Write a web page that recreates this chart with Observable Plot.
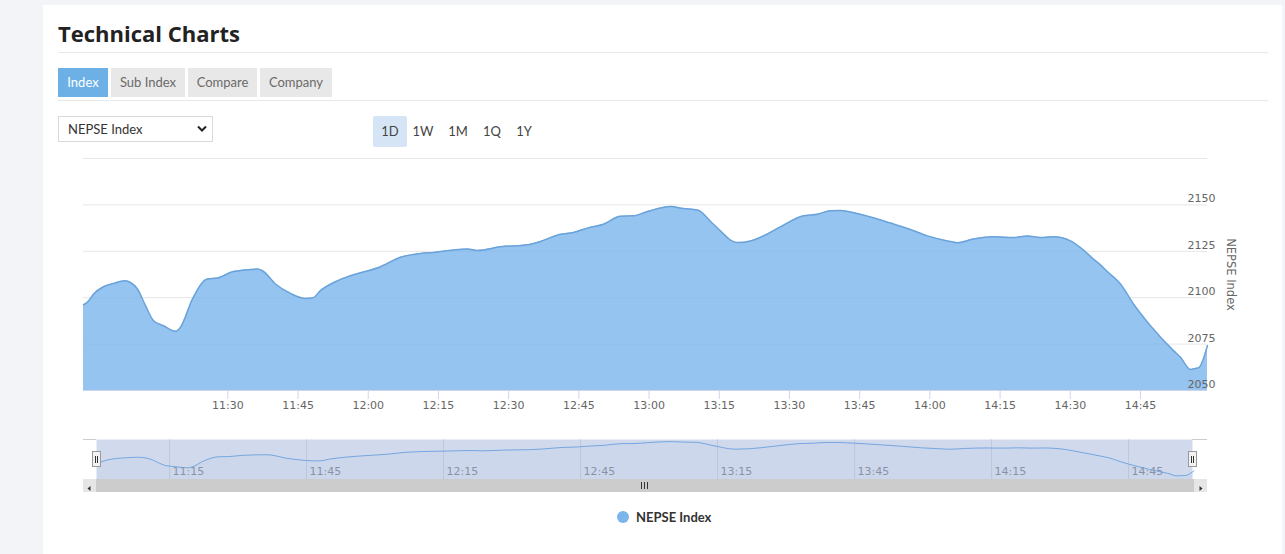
<!DOCTYPE html>
<html>
<head>
<meta charset="utf-8">
<script src="https://cdn.jsdelivr.net/npm/d3@7"></script>
<script src="https://cdn.jsdelivr.net/npm/@observablehq/plot@0.6"></script>
<style>
  html, body { margin: 0; padding: 0; }
  body { width: 1285px; height: 554px; overflow: hidden; background: #f3f4f8; position: relative; font-family: Lato, "Noto Sans", sans-serif; }
  .abs { position: absolute; }
  #card { left: 43px; top: 5px; width: 1239px; height: 560px; background: #fff; }
  #title { left: 58px; top: 18px; font-family: "Open Sans", Lato, sans-serif; font-size: 22px; font-weight: 700; color: #222; line-height: 30px; white-space: nowrap; }
  .hline { height: 1px; background: #e8e8e8; left: 58px; width: 1210px; }
  .tab { top: 68px; height: 29px; line-height: 29px; font-size: 13px; color: #6a6a6a; background: #e8e8e8; text-align: center; }
  .tab.on { background: #6cb0e6; color: #fff; }
  #sel { left: 58px; top: 116px; width: 153px; height: 24px; border: 1px solid #d9d9d9; font-size: 13px; color: #333; line-height: 24px; }
  #sel span { position: absolute; left: 9px; }
  #sel svg { position: absolute; right: 5px; top: 8px; }
  .btn { top: 116px; height: 31px; line-height: 31px; font-size: 13px; color: #444; text-align: center; width: 34px; }
  .btn.on { background: #d6e5f6; border-radius: 2px; }
  #main { left: 43px; top: 150px; }
  #nav { left: 96px; top: 439px; }
  #navTop { left: 83px; top: 439px; width: 1124px; height: 1px; background: #cccccc; }
  #scroll { left: 83px; top: 479px; width: 1124px; height: 13px; background: #cccccc; }
  .sbtn { top: 479px; width: 13px; height: 13px; background: #e6e6e6; border: 0; }
  .handle { top: 451px; width: 7px; height: 14px; background: #f2f2f2; border: 1px solid #999; }
  .handle i { position: absolute; top: 4px; width: 1px; height: 7px; background: #333; }
  #legend { left: 617px; top: 508px; height: 18px; font-size: 13px; font-weight: 700; color: #333; line-height: 18px; white-space: nowrap; }
  #legend b { display: inline-block; width: 12px; height: 12px; border-radius: 6px; background: #7cb5ec; vertical-align: -1px; margin-right: 7px; }
</style>
</head>
<body>
<div id="card" class="abs"></div>
<div id="title" class="abs">Technical Charts</div>
<div class="abs hline" style="top:52px"></div>
<div class="abs tab on" style="left:58px;width:50px">Index</div>
<div class="abs tab" style="left:111px;width:74px">Sub Index</div>
<div class="abs tab" style="left:188px;width:69px">Compare</div>
<div class="abs tab" style="left:260px;width:72px">Company</div>
<div class="abs hline" style="top:100px"></div>
<div id="sel" class="abs"><span>NEPSE Index</span>
  <svg width="10" height="8" viewBox="0 0 10 8"><path d="M1 1.5 L5 5.5 L9 1.5" fill="none" stroke="#222" stroke-width="2"/></svg>
</div>
<div class="abs btn on" style="left:373px">1D</div>
<div class="abs btn" style="left:406px">1W</div>
<div class="abs btn" style="left:441px">1M</div>
<div class="abs btn" style="left:475px">1Q</div>
<div class="abs btn" style="left:507px">1Y</div>

<div id="main" class="abs"></div>
<div id="navTop" class="abs"></div>
<div id="nav" class="abs"></div>
<div id="scroll" class="abs"></div>
<div class="abs sbtn" style="left:83px"><svg width="13" height="13"><path d="M7.5 4 L4.5 6.5 L7.5 9 Z" fill="#333"/></svg></div>
<div class="abs sbtn" style="left:1194px"><svg width="13" height="13"><path d="M5.5 4 L8.5 6.5 L5.5 9 Z" fill="#333"/></svg></div>
<svg class="abs" style="left:640px;top:481px" width="9" height="9"><path d="M1.5 1 V8 M4.5 1 V8 M7.5 1 V8" stroke="#333" stroke-width="1"/></svg>
<div class="abs handle" style="left:92px"><i style="left:2px"></i><i style="left:4px"></i></div>
<div class="abs handle" style="left:1188px"><i style="left:2px"></i><i style="left:4px"></i></div>
<div id="legend" class="abs"><b></b>NEPSE Index</div>

<script>
// ---- data ----
const times = [
  "10:59:10","11:00:01","11:01:18","11:03:26","11:05:35","11:08:08","11:09:12","11:10:42","11:12:25","11:14:08",
  "11:16:15","11:18:50","11:19:53","11:22:27","11:25:39","11:27:48","11:31:13","11:36:21","11:37:24","11:40:11",
  "11:43:24","11:46:36","11:48:06","11:49:48","11:53:26","11:56:12","12:02:37","12:06:54","12:11:10","12:13:57",
  "12:18:13","12:21:12","12:23:21","12:28:15","12:34:02","12:36:48","12:41:05","12:43:51","12:46:51","12:50:16",
  "12:53:54","12:56:41","12:59:40","13:04:35","13:07:21","13:10:21","13:13:46","13:18:54","13:21:41","13:24:27",
  "13:28:05","13:33:00","13:35:59","13:38:46","13:40:54","13:43:02","13:47:19","13:51:35","13:55:13","13:59:29",
  "14:03:46","14:05:54","14:09:19","14:13:35","14:17:52","14:20:51","14:23:38","14:26:24","14:30:03","14:32:11",
  "14:34:57","14:36:27","14:37:44","14:40:44","14:43:30","14:47:08","14:52:03","14:53:33","14:55:40","14:56:20",
  "14:57:24","14:59:19"
];
const values = [
  2096.2,2097.6,2101.9,2105.9,2107.7,2109.1,2108.2,2104.7,2095.7,2087.6,
  2084.9,2081.9,2084.0,2099.3,2110.1,2110.6,2114.1,2115.4,2114.5,2107.4,
  2102.3,2099.6,2099.8,2103.8,2109.1,2111.8,2116.7,2121.8,2123.8,2124.4,
  2125.7,2126.2,2125.4,2127.4,2128.5,2130.3,2134.2,2135.1,2137.5,2139.6,
  2143.9,2144.1,2146.4,2149.1,2148.0,2147.2,2139.6,2129.7,2130.6,2133.3,
  2138.2,2144.1,2145.0,2146.8,2147.0,2146.2,2143.5,2140.2,2137.3,2133.3,
  2130.6,2129.6,2131.6,2132.8,2132.4,2133.2,2132.4,2132.8,2130.6,2127.0,
  2120.8,2117.7,2114.5,2107.4,2096.6,2084.9,2071.5,2067.9,2061.3,2061.7,
  2062.2,2074.2
];
const xTickLabels = ["11:30","11:45","12:00","12:15","12:30","12:45","13:00","13:15","13:30","13:45","14:00","14:15","14:30","14:45"];
const yTickLabels = [2050, 2075, 2100, 2125, 2150];
const yGridLines = [2075, 2100, 2125, 2150, 2175];
const navTickLabels = ["11:15","11:45","12:15","12:45","13:15","13:45","14:15","14:45"];
const seriesName = "NEPSE Index";

// ---- build ----
const parseT = d3.utcParse("%H:%M:%S");
const parseHM = d3.utcParse("%H:%M");
const fmt = d3.utcFormat("%H:%M");
const data = times.map((t, i) => ({time: parseT(t), value: values[i]}));
const xTicks = xTickLabels.map(parseHM);
const navTicks = navTickLabels.map(parseHM);

const main = Plot.plot({
  width: 1230, height: 270,
  marginLeft: 40, marginRight: 66, marginTop: 8, marginBottom: 30,
  style: {fontFamily: "'DejaVu Sans', sans-serif", fontSize: "11px", color: "#666", background: "transparent", overflow: "visible"},
  x: {type: "utc", domain: [parseT("10:59:10"), parseT("14:59:19")]},
  y: {domain: [2050, 2175]},
  marks: [
    Plot.gridY(yGridLines, {stroke: "#e6e6e6", strokeOpacity: 1}),
    Plot.areaY(data, {x: "time", y1: 2050, y2: "value", fill: "#7cb5ec", fillOpacity: 0.8, curve: "monotone-x"}),
    Plot.lineY(data, {x: "time", y: "value", stroke: "#6aa3da", strokeWidth: 1.5, curve: "monotone-x"}),
    Plot.ruleY([2050], {stroke: "#ccd6eb"}),
    Plot.axisX({ticks: xTicks, tickFormat: fmt, tickSize: 9, tickPadding: 2, stroke: "#ccd6eb", fill: "#666", label: null}),
    Plot.axisY({anchor: "right", ticks: yTickLabels, tickFormat: d => String(d), tickSize: 0, tickPadding: 0, dx: -20, dy: -6, textAnchor: "start", fill: "#666", label: null}),
    Plot.text([seriesName], {text: d => d, frameAnchor: "right", dx: 23, rotate: 90, textAnchor: "middle", lineAnchor: "middle", fill: "#666", fontSize: 11.5})
  ]
});
document.getElementById("main").appendChild(main);

const nav = Plot.plot({
  width: 1096, height: 40,
  marginLeft: 0, marginRight: 0, marginTop: 0, marginBottom: 0,
  style: {fontFamily: "'DejaVu Sans', sans-serif", fontSize: "11px", background: "#fff", overflow: "visible"},
  x: {type: "utc", domain: [parseT("10:59:00"), parseT("14:59:00")], axis: null},
  y: {domain: [2052, 2154.5], axis: null},
  marks: [
    Plot.ruleX(navTicks, {stroke: "#e6e6e6"}),
    Plot.areaY(data, {x: "time", y1: 2052, y2: "value", fill: "#7cb5ec", fillOpacity: 0.05, curve: "monotone-x"}),
    Plot.lineY(data, {x: "time", y: "value", stroke: "#7cb5ec", strokeWidth: 1, curve: "monotone-x"}),
    Plot.text(navTicks, {x: d => d, text: d => fmt(d), frameAnchor: "bottom", dy: -5, dx: 3, textAnchor: "start", fill: "#999"}),
    Plot.frame({fill: "rgba(102,133,194,0.3)", stroke: null})
  ]
});
document.getElementById("nav").appendChild(nav);
</script>
</body>
</html>
